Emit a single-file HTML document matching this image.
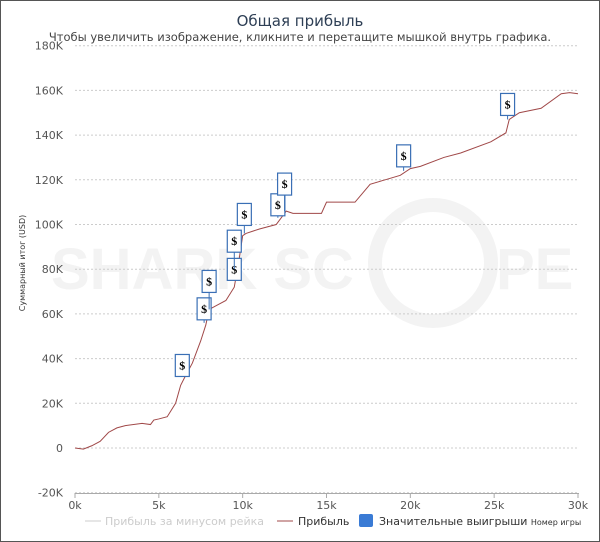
<!DOCTYPE html>
<html><head><meta charset="utf-8"><style>
body{margin:0;background:#fff;font-family:"DejaVu Sans","Liberation Sans",sans-serif;}
#wrap{position:relative;width:598px;height:540px;border:1px solid #555;overflow:hidden;}
</style></head><body>
<div id="wrap">
<svg id="chart" width="598" height="540" font-family="DejaVu Sans, Liberation Sans, sans-serif">
<g fill="#f3f3f3">
<text x="50" y="288" font-size="58" font-weight="bold" font-family="Liberation Sans, sans-serif">SHARK SC</text>
<circle cx="432" cy="262" r="58" fill="none" stroke="#f3f3f3" stroke-width="14"/>
<text x="495" y="288" font-size="58" font-weight="bold" font-family="Liberation Sans, sans-serif">PE</text>
</g>
<text x="299" y="25" text-anchor="middle" font-size="15" fill="#2e3f55">Общая прибыль</text>
<text x="299" y="40" text-anchor="middle" font-size="11.5" fill="#444">Чтобы увеличить изображение, кликните и перетащите мышкой внутрь графика.</text>
<g id="grid"></g><g id="axes"></g><g id="series"></g><g id="markers"></g>
<text transform="translate(24,262) rotate(-90)" text-anchor="middle" font-size="8" fill="#333">Суммарный итог (USD)</text>
<text x="555" y="524" text-anchor="middle" font-size="8" fill="#333">Номер игры</text>
<g font-size="11">
<g><line x1="84" y1="520" x2="100" y2="520" stroke="#ccc"/><text x="104" y="524" fill="#ccc">Прибыль за минусом рейка</text></g>
<g><line x1="276" y1="520" x2="292" y2="520" stroke="#a04848"/><text x="297" y="524" fill="#333">Прибыль</text></g>
<g><rect x="358" y="513" width="14" height="13" rx="2" fill="#3a7bd5"/><text x="378" y="524" fill="#333">Значительные выигрыши</text></g>
</g>
</svg></div>
<script>
const xTicks=[0,5,10,15,20,25,30];
const xTickLabels=["0k","5k","10k","15k","20k","25k","30k"];
const yTicks=[-20,0,20,40,60,80,100,120,140,160,180];
const yTickLabels=["-20K","0","20K","40K","60K","80K","100K","120K","140K","160K","180K"];
const gamesK=[0,0.5,1,1.5,2,2.5,3,4,4.5,4.7,5,5.5,6,6.3,6.5,7,7.5,7.8,8,8.5,9,9.5,9.8,10,10.2,11,12,12.4,12.6,13,14.7,15,16.7,17.6,18.5,19.4,20,20.6,22,23,24.8,25.7,25.9,26.5,27.8,29,29.5,30];
const profitK=[0,-0.5,1,3,7,9,10,11,10.5,12.5,13,14,20,28,31,38,48,55,62,64,66,72,85,95,96,98,100,104,106,105,105,110,110,118,120,122,125,126,130,132,137,141,147,150,152,158.5,159,158.5];
const markerX=[6.4,7.7,8.0,9.5,9.5,10.1,12.1,12.5,19.6,25.8];
const markerY=[32,56,62,75,80,96,103,106,124,147];
const markerLift=[0,3,17,0,17,8,2,16,4,4];
const NS="http://www.w3.org/2000/svg";
const X=v=>74+v*(503/30), Y=v=>447-v*2.235;
function mk(t,a,p){const e=document.createElementNS(NS,t);for(const k in a)e.setAttribute(k,a[k]);p.appendChild(e);return e;}
const grid=document.getElementById('grid'),axes=document.getElementById('axes');
yTicks.forEach((v,i)=>{
 const l=mk('line',{x1:74,x2:578,y1:Y(v),y2:Y(v),stroke:'#ccc','stroke-dasharray':'2,2'},grid);
 
 
 const t=mk('text',{x:62,y:Y(v)+4,'text-anchor':'end','font-size':11,fill:'#555'},axes);
 t.textContent=yTickLabels[i];
 
 
});
const ax=mk('line',{x1:74,x2:578,y1:492.5,y2:492.5,stroke:'#aaa'},axes);


xTicks.forEach((v,i)=>{
 mk('line',{x1:X(v),x2:X(v),y1:492,y2:497,stroke:'#aaa'},axes);
 const t=mk('text',{x:X(v),y:508,'text-anchor':'middle','font-size':11,fill:'#555'},axes);
 t.textContent=xTickLabels[i];
 
 
});
const p=mk('polyline',{points:gamesK.map((g,i)=>X(g)+','+Y(profitK[i])).join(' '),fill:'none',stroke:'#a04848','stroke-width':1},document.getElementById('series'));


const mg=document.getElementById('markers');
markerX.forEach((v,i)=>{
 const cx=X(v),cy=Y(markerY[i]),by=cy-markerLift[i]-22;
 const g=mk('g',{},mg);
 
 
 mk('line',{x1:cx,x2:cx,y1:by+22,y2:cy,stroke:'#3a6fb5'},g);
 mk('rect',{x:cx-7,y:by,width:14,height:22,fill:'#fff',stroke:'#3a6fb5','stroke-width':1.2},g);
 const t=mk('text',{x:cx,y:by+15,'text-anchor':'middle','font-size':12,'font-weight':'bold',fill:'#000','font-family':'Liberation Serif, serif'},g);
 t.textContent='$';
});
</script>
</body></html>
